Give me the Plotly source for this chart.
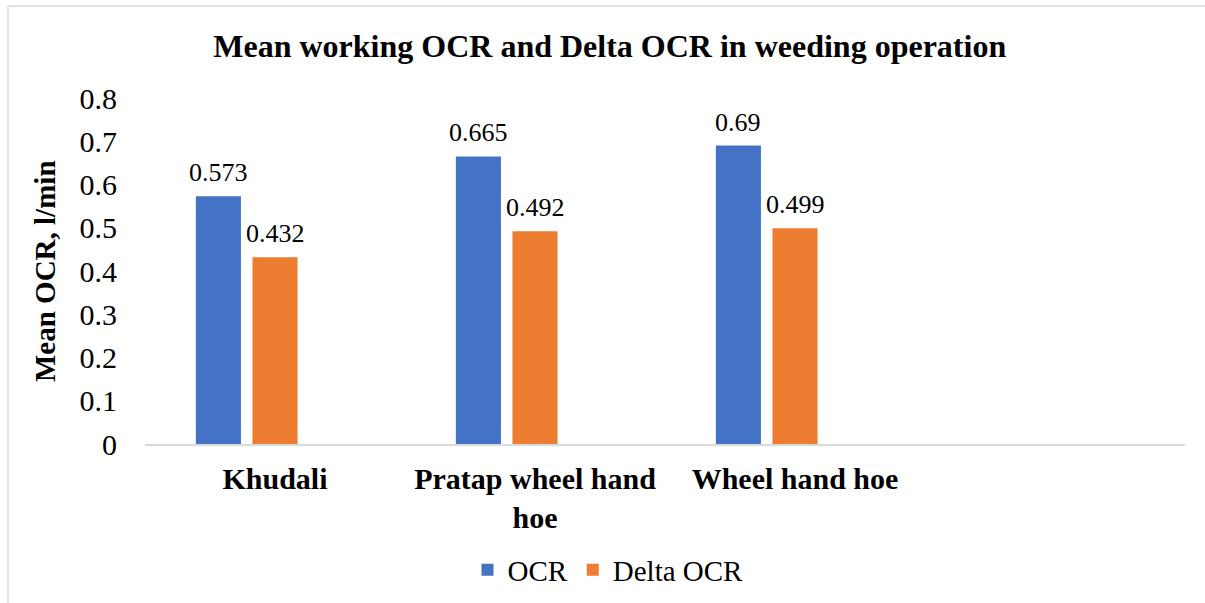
import plotly.graph_objects as go

categories = ["Khudali", "Pratap wheel hand<br>hoe", "Wheel hand hoe", " "]
ocr = [0.573, 0.665, 0.69]
delta_ocr = [0.432, 0.492, 0.499]
ocr_labels = ["0.573", "0.665", "0.69"]
delta_labels = ["0.432", "0.492", "0.499"]
yticks = [0, 0.1, 0.2, 0.3, 0.4, 0.5, 0.6, 0.7, 0.8]
ytick_text = ["0", "0.1", "0.2", "0.3", "0.4", "0.5", "0.6", "0.7", "0.8"]

FONT = "Liberation Serif"
BLUE = "#4472C4"
ORANGE = "#ED7D31"

L, R, T, B = 145, 20, 98, 159
W, H = 1205, 603
pw = W - L - R
ph = H - T - B

slot = 0.2177
bw = 0.1734

fig = go.Figure()
fig.add_trace(go.Bar(
    x=categories[:3], y=ocr, name="OCR", marker_color=BLUE,
    width=bw, offset=-slot - bw / 2, marker_line_width=0,
))
fig.add_trace(go.Bar(
    x=categories[:3], y=delta_ocr, name="Delta OCR", marker_color=ORANGE,
    width=bw, offset=-bw / 2, marker_line_width=0,
))

annotations = []
for i, (v, t) in enumerate(zip(ocr, ocr_labels)):
    annotations.append(dict(x=i - slot, y=v, xref="x", yref="y", text=t,
                            showarrow=False, yanchor="bottom", yshift=7,
                            font=dict(family=FONT, size=26, color="#000")))
for i, (v, t) in enumerate(zip(delta_ocr, delta_labels)):
    annotations.append(dict(x=i, y=v, xref="x", yref="y", text=t,
                            showarrow=False, yanchor="bottom", yshift=7,
                            font=dict(family=FONT, size=26, color="#000")))
# y-axis title
annotations.append(dict(x=(45 - L) / pw, y=0.5, xref="paper", yref="paper",
                        text="<b>Mean OCR, l/min</b>", textangle=-90, showarrow=False,
                        xanchor="center", yanchor="middle",
                        font=dict(family=FONT, size=29, color="#000")))

fig.update_layout(
    width=W, height=H,
    margin=dict(l=L, r=R, t=T, b=B),
    paper_bgcolor="white", plot_bgcolor="white",
    title=dict(text="<b>Mean working OCR and Delta OCR in weeding operation</b>",
               x=0.506, xref="container", xanchor="center",
               y=1 - 46 / H, yref="container", yanchor="middle",
               font=dict(family=FONT, size=32, color="#000")),
    showlegend=True,
    legend=dict(orientation="h", x=(608 - L) / pw, xanchor="center",
                y=1 - 570 / H, yref="container", yanchor="middle",
                font=dict(family=FONT, size=29, color="#000"),
                itemsizing="constant", traceorder="normal"),
    annotations=annotations,
    xaxis=dict(type="category", categoryorder="array", categoryarray=categories,
               range=[-0.5, 3.5], showgrid=False, showline=True, automargin=False,
               linecolor="#d9d9d9", linewidth=1.5, ticks="outside", ticklen=7,
               tickcolor="rgba(0,0,0,0)", tickfont=dict(family=FONT, size=30, color="#000"),
               tickvals=categories[:3], ticktext=["<b>Khudali</b>", "<b>Pratap wheel hand</b><br><b>hoe</b>", "<b>Wheel hand hoe</b>"],
               zeroline=False),
    yaxis=dict(range=[0, 0.8], tickvals=yticks, ticktext=ytick_text, showgrid=False,
               showline=False, zeroline=False, ticks="outside", ticklen=21, automargin=False,
               tickcolor="rgba(0,0,0,0)",
               tickfont=dict(family=FONT, size=30, color="#000")),
    bargap=0.3,
    shapes=[
        dict(type="line", xref="paper", yref="paper", x0=(8 - L) / pw, x1=(W + 5 - L) / pw,
             y0=1 + (T - 6) / ph, y1=1 + (T - 6) / ph, line=dict(color="#d9d9d9", width=1.5)),
        dict(type="line", xref="paper", yref="paper", x0=(8 - L) / pw, x1=(8 - L) / pw,
             y0=1 + (T - 6) / ph, y1=-(H + 5 - (H - B)) / ph, line=dict(color="#d9d9d9", width=1.5)),
    ],
)

fig.write_html("out.html")
